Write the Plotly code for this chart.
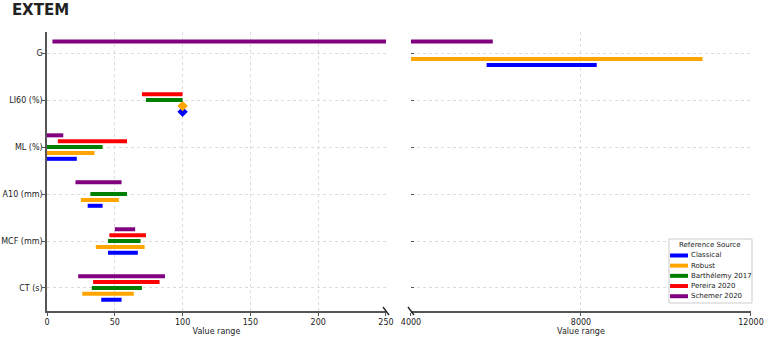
import plotly.graph_objects as go

# ---------------- data ----------------
categories = ["CT (s)", "MCF (mm)", "A10 (mm)", "ML (%)", "LI60 (%)", "G"]
series_names = ["Classical", "Robust", "Barthélemy 2017", "Pereira 2020", "Schemer 2020"]
series_colors = ["#0000FF", "#FFA500", "#008000", "#FF0000", "#800080"]

classical_low = [40, 45, 30, 0, 100, 5780]
classical_high = [55, 67, 41, 22, 100, 8370]
robust_low = [26, 36, 25, 0, 100, 3900]
robust_high = [64, 72, 53, 35, 100, 10860]
barthelemy_low = [33, 45, 32, 0, 73, None]
barthelemy_high = [70, 69, 59, 41, 100, None]
pereira_low = [34, 46, None, 8, 70, None]
pereira_high = [83, 73, None, 59, 100, None]
schemer_low = [23, 50, 21, 0, None, 4]
schemer_high = [87, 65, 55, 12, None, 5925]

lows = [classical_low, robust_low, barthelemy_low, pereira_low, schemer_low]
highs = [classical_high, robust_high, barthelemy_high, pereira_high, schemer_high]
offsets = [-0.25, -0.125, 0.0, 0.125, 0.25]

left_ticks = [0, 50, 100, 150, 200, 250]
right_ticks = [4000, 8000, 12000]

# ---------------- figure ----------------
fig = go.Figure()
font_family = "DejaVu Sans"

for k, name in enumerate(series_names):
    seg_x, seg_y, pt_x, pt_y = [], [], [], []
    for i, cat in enumerate(categories):
        lo, hi = lows[k][i], highs[k][i]
        if lo is None:
            continue
        pos = i + offsets[k]
        if lo == hi:
            pt_x.append(lo)
            pt_y.append(pos)
        else:
            seg_x += [lo, hi, None]
            seg_y += [pos, pos, None]
    for axis_i, (xa, ya) in enumerate([("x", "y"), ("x2", "y2")]):
        fig.add_trace(go.Scatter(
            x=seg_x, y=seg_y, mode="lines", xaxis=xa, yaxis=ya,
            line=dict(color=series_colors[k], width=4),
            name=name, showlegend=False, hoverinfo="skip"))
        if pt_x:
            fig.add_trace(go.Scatter(
                x=pt_x, y=pt_y, mode="markers", xaxis=xa, yaxis=ya,
                marker=dict(symbol="diamond", size=8, color=series_colors[k]),
                name=name, showlegend=False, hoverinfo="skip"))

grid = dict(showgrid=True, gridcolor="#dcdcdc", griddash="dot", gridwidth=1)
tickfont = dict(family=font_family, size=8, color="#222")
axtitle = dict(text="Value range", standoff=2, font=dict(family=font_family, size=8, color="#222"))

fig.update_layout(
    width=767, height=337,
    margin=dict(l=47, r=16, t=32, b=26),
    paper_bgcolor="white", plot_bgcolor="white",
    showlegend=False,
    font=dict(family=font_family, size=8, color="#222"),
    title=dict(text="<b>EXTEM</b>", x=0.0155, xanchor="left", y=0.988, yanchor="top",
               font=dict(family=font_family, size=15, color="#222")),
    xaxis=dict(domain=[0, 0.4815], range=[0, 250], tickvals=left_ticks,
               ticktext=[str(t) for t in left_ticks],
               ticks="outside", ticklen=3, tickcolor="#555",
               showline=True, linecolor="#555", linewidth=1.5,
               zeroline=False, tickfont=tickfont, automargin=False,
               title=axtitle, anchor="y", **grid),
    xaxis2=dict(domain=[0.517, 1.0], range=[4000, 12000], tickvals=right_ticks,
                ticktext=[str(t) for t in right_ticks],
                ticks="outside", ticklen=3, tickcolor="#555",
                showline=True, linecolor="#555", linewidth=1.5,
                zeroline=False, tickfont=tickfont, automargin=False,
                title=axtitle, anchor="y2", **grid),
    yaxis=dict(range=[-0.49, 5.45], tickvals=list(range(len(categories))),
               ticktext=categories, ticks="outside", ticklen=3, tickcolor="#555",
               ticklabelstandoff=-2,
               showline=True, linecolor="#555", linewidth=1.5, automargin=False,
               zeroline=False, tickfont=tickfont, anchor="x", **grid),
    yaxis2=dict(range=[-0.49, 5.45], tickvals=list(range(len(categories))),
                showticklabels=False, ticks="inside", ticklen=3, tickcolor="#555",
                showline=False, zeroline=False, anchor="x2", matches="y",
                automargin=False, **grid),
)

# axis-break marks
for xanchor in [0.4815, 0.517]:
    fig.add_shape(type="line", xref="paper", yref="paper",
                  xsizemode="pixel", ysizemode="pixel",
                  xanchor=xanchor, yanchor=0,
                  x0=-3, x1=3, y0=4, y1=-4,
                  line=dict(color="#222", width=1.3))

# legend box (drawn in paper coordinates)
leg_x0, leg_x1, leg_y0, leg_y1 = 0.8835, 1.0014, 0.0287, 0.258
fig.add_shape(type="rect", xref="paper", yref="paper",
              x0=leg_x0, x1=leg_x1, y0=leg_y0, y1=leg_y1,
              fillcolor="white", line=dict(color="#cccccc", width=1), layer="above")
fig.add_annotation(text="Reference Source", xref="paper", yref="paper",
                   x=(leg_x0 + leg_x1) / 2, y=0.2366, xanchor="center", yanchor="middle",
                   showarrow=False, font=dict(family=font_family, size=7, color="#222"))
row_h = 0.0365
for k, name in enumerate(series_names):
    yk = 0.199 - k * row_h
    fig.add_shape(type="line", xref="paper", yref="paper",
                  x0=0.885, x1=0.9105, y0=yk, y1=yk,
                  line=dict(color=series_colors[k], width=4), layer="above")
    fig.add_annotation(text=name, xref="paper", yref="paper",
                       x=0.912, y=yk, xanchor="left", yanchor="middle",
                       showarrow=False, font=dict(family=font_family, size=7, color="#222"))

fig.write_html("out.html")
